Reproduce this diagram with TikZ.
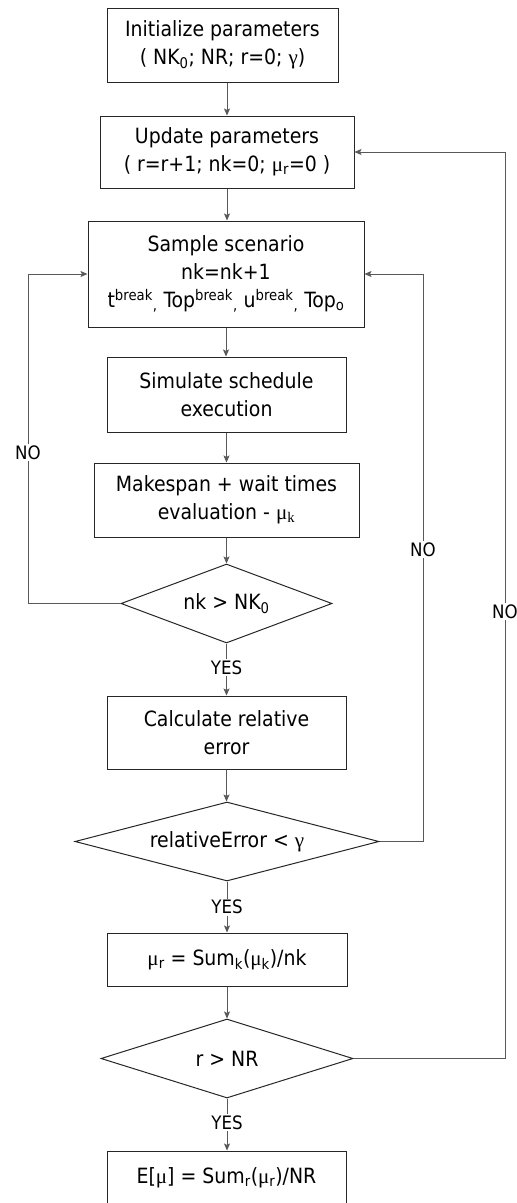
\documentclass[tikz,border=0pt]{standalone}
\usepackage{fontspec}
\setmainfont{DejaVu Sans Condensed}
\newfontfamily\grk{Liberation Serif}
\usetikzlibrary{shapes.geometric,arrows.meta}
\newcommand\dn[1]{\textsubscript{#1}}
\newcommand\up[1]{\textsuperscript{#1}}
\newcommand\mug{{\grk μ}}
\newcommand\gam{{\grk γ}}
\tikzset{
  box/.style={draw=black!85, line width=1pt, rectangle, inner sep=0pt,
    align=center, font=\fontsize{21}{28}\selectfont},
  dec/.style={draw=black!85, line width=1pt, diamond, aspect=4, inner sep=0pt,
    align=center, font=\fontsize{21}{28}\selectfont},
  conn/.style={draw=black!65, line width=0.8pt,
    -{Stealth[length=7pt,width=6pt,inset=1.5pt]}},
  lbl/.style={fill=white, inner sep=1.5pt, text=black,
    font=\fontsize{18.5}{20}\selectfont}
}
\begin{document}
\begin{tikzpicture}[x=1pt,y=-1pt]
\useasboundingbox (0,0) rectangle (517,1203);

% process boxes and decisions
\node[box, minimum width=231, minimum height=74] (b1) at (222.5,45)
  {Initialize parameters\\( NK\dn{0}; NR; r=0; \gam)};
\node[box, minimum width=254, minimum height=72] (b2) at (227,152)
  {Update parameters\\( r=r+1; nk=0; \mug\dn{r}=0 )};
\node[box, minimum width=276, minimum height=106] (b3) at (226,274)
  {Sample scenario\\nk=nk+1\\t\up{break}\dn{,} Top\up{break}\dn{,} u\up{break}\dn{,} Top\dn{o}};
\node[box, minimum width=239, minimum height=75] (b4) at (226.5,394.5)
  {Simulate schedule\\execution};
\node[box, minimum width=265, minimum height=74] (b5) at (226.5,500)
  {Makespan + wait times\\evaluation - {\grk μ\dn{k}}};
\node[dec, minimum width=211, minimum height=79] (d1) at (226.5,603.5)
  {nk > NK\dn{0}};
\node[box, minimum width=239, minimum height=73] (b6) at (226.5,732.5)
  {Calculate relative\\error};
\node[dec, minimum width=304, minimum height=79] (d2) at (227,841.5)
  {relativeError < \gam};
\node[box, minimum width=240, minimum height=53] (b7) at (227,959.5)
  {\mug\dn{r} = Sum\dn{k}(\mug\dn{k})/nk};
\node[dec, minimum width=252, minimum height=79] (d3) at (227,1058.5)
  {r > NR};
\node[box, minimum width=239, minimum height=54] (b8) at (226.5,1178)
  {E[\mug] = Sum\dn{r}(\mug\dn{r})/NR};

% main flow
\draw[conn] (b2.north |- b1.south) -- (b2.north);
\draw[conn] (b2.south) -- (b2.south |- b3.north);
\draw[conn] (b3.south) -- (b3.south |- b4.north);
\draw[conn] (b4.south) -- (b4.south |- b5.north);
\draw[conn] (b5.south) -- (b5.south |- d1.north);
\draw[conn] (d1.south) -- node[lbl, pos=0.47]{YES} (d1.south |- b6.north);
\draw[conn] (b6.south) -- (b6.south |- d2.north);
\draw[conn] (d2.south) -- node[lbl, pos=0.5]{YES} (d2.south |- b7.north);
\draw[conn] (b7.south) -- (b7.south |- d3.north);
\draw[conn] (d3.south) -- node[lbl, pos=0.47]{YES} (d3.south |- b8.north);

% loops back
\coordinate (l1) at (28,603.5);
\coordinate (r1) at (423,841.5);
\coordinate (r2) at (505,1058.5);
\draw[conn] (d1.west) -- (l1) -- node[lbl, pos=0.457]{NO} (l1 |- b3.west) -- (b3.west);
\draw[conn] (d2.east) -- (r1) -- node[lbl, pos=0.514]{NO} (r1 |- b3.east) -- (b3.east);
\draw[conn] (d3.east) -- (r2) -- node[lbl, pos=0.493]{NO} (r2 |- b2.east) -- (b2.east);
\end{tikzpicture}
\end{document}
